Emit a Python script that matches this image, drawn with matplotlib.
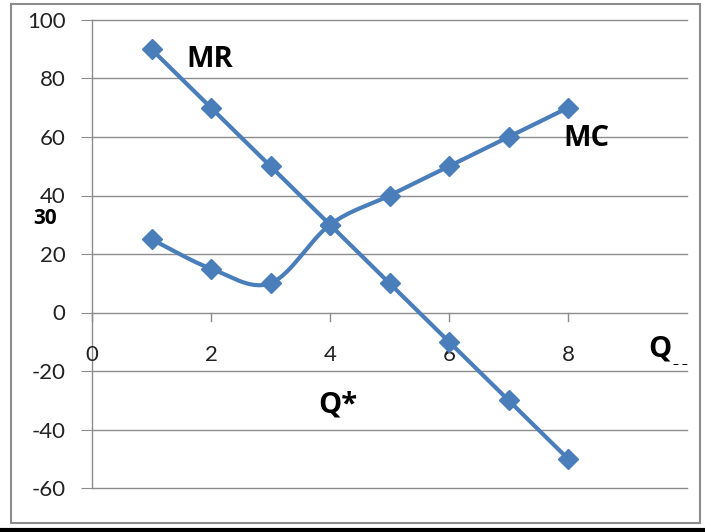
import numpy as np
import matplotlib
matplotlib.use("Agg")
import matplotlib.pyplot as plt
from matplotlib.patches import Rectangle
from matplotlib.lines import Line2D
from matplotlib.ticker import FuncFormatter

# Quantity and the two marginal curves
quantity = [1, 2, 3, 4, 5, 6, 7, 8]
marginal_revenue = [90, 70, 50, 30, 10, -10, -30, -50]
marginal_cost = [25, 15, 10, 30, 40, 50, 60, 70]

x_ticks = [0, 2, 4, 6, 8]
y_ticks = [-60, -40, -20, 0, 20, 40, 60, 80, 100]

BLUE = "#4A7EBB"
GRID = "#8C8C8C"
FONT = ["Lato", "DejaVu Sans"]
BOLD_FONT = ["Open Sans", "DejaVu Sans"]


def smooth(xs, ys, n=30):
    """Catmull-Rom style smoothing, like a spreadsheet's smoothed line."""
    xs = np.asarray(xs, float)
    ys = np.asarray(ys, float)
    px = np.concatenate([[2 * xs[0] - xs[1]], xs, [2 * xs[-1] - xs[-2]]])
    py = np.concatenate([[2 * ys[0] - ys[1]], ys, [2 * ys[-1] - ys[-2]]])
    outx, outy = [], []
    for i in range(1, len(px) - 2):
        t = np.linspace(0, 1, n, endpoint=(i == len(px) - 3))
        p0x, p1x, p2x, p3x = px[i - 1:i + 3]
        p0y, p1y, p2y, p3y = py[i - 1:i + 3]
        c1x, c1y = p1x + (p2x - p0x) / 6, p1y + (p2y - p0y) / 6
        c2x, c2y = p2x - (p3x - p1x) / 6, p2y - (p3y - p1y) / 6
        b = lambda a, b1, b2, c: ((1 - t) ** 3 * a + 3 * (1 - t) ** 2 * t * b1
                                  + 3 * (1 - t) * t ** 2 * b2 + t ** 3 * c)
        outx.append(b(p1x, c1x, c2x, p2x))
        outy.append(b(p1y, c1y, c2y, p2y))
    return np.concatenate(outx), np.concatenate(outy)


fig = plt.figure(figsize=(7.05, 5.32), dpi=100)
ax = fig.add_axes([92 / 705, 1 - 488 / 532, 595 / 705, 468 / 532])

# Chart frame
fig.patches.append(Rectangle((11 / 705, 1 - 523 / 532), 689 / 705, 519 / 532,
                             transform=fig.transFigure, fill=False,
                             edgecolor="#8C8C8C", linewidth=1.5))
fig.lines.append(Line2D([0, 1], [2 / 532, 2 / 532], transform=fig.transFigure,
                        color="black", linewidth=3))

ax.set_xlim(0, 10)
ax.set_ylim(-60, 100)
ax.set_yticks(y_ticks)
ax.yaxis.set_major_formatter(FuncFormatter(lambda v, p: f"{v:.0f}"))
ax.set_xticks([])
for s in ax.spines.values():
    s.set_visible(False)
ax.spines["left"].set_visible(True)
ax.spines["left"].set_color(GRID)
ax.spines["left"].set_linewidth(1)
ax.yaxis.grid(True, color=GRID, linewidth=1)
ax.set_axisbelow(True)
ax.tick_params(axis="y", length=8, color=GRID, labelsize=16, pad=11,
               labelcolor="#222222")
for lab in ax.get_yticklabels():
    lab.set_family(FONT)
for gl in ax.get_ygridlines():
    gl.set_clip_on(False)

# Horizontal axis at zero with downward ticks and labels beneath
for xt in x_ticks:
    ax.plot([xt, xt], [0, -3], color=GRID, linewidth=1, clip_on=False, zorder=1)
    ax.text(xt, -14.5, str(xt), ha="center", va="center", fontsize=16,
            family=FONT, color="#222222")

mrx, mry = smooth(quantity, marginal_revenue)
mcx, mcy = smooth(quantity, marginal_cost)
ax.plot(mrx, mry, color=BLUE, linewidth=3, zorder=3)
ax.plot(mcx, mcy, color=BLUE, linewidth=3, zorder=3)
ax.plot(quantity, marginal_revenue, linestyle="none", marker="D",
        markersize=10.5, color=BLUE, zorder=4)
ax.plot(quantity, marginal_cost, linestyle="none", marker="D",
        markersize=10.5, color=BLUE, zorder=4)

bold = dict(fontsize=21, fontweight="bold", family=BOLD_FONT, color="black")
ax.text(1.58, 86.5, "MR", ha="left", va="center", **bold)
ax.text(7.92, 59.5, "MC", ha="left", va="center", **bold)
ax.text(3.81, -31.5, "Q*", ha="left", va="center", **bold)
ax.text(9.35, -12.5, "Q", ha="left", va="center", **bold)
ax.text(9.76, -15.5, "_ _", ha="left", va="center", fontsize=9, family=FONT)
fig.text(33 / 705, 1 - 218 / 532, "30", ha="left", va="center",
         fontsize=15, fontweight="bold", family=BOLD_FONT)

fig.savefig("out.png", dpi=100)
